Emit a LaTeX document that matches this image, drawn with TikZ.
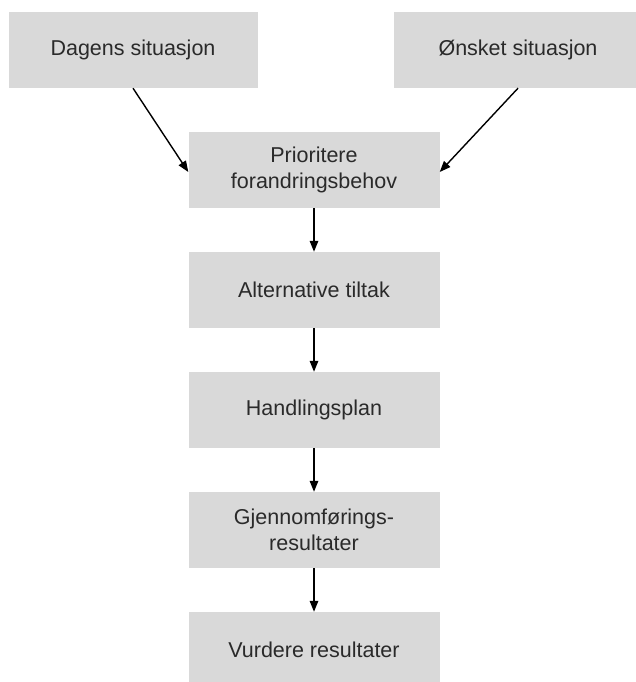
\documentclass[tikz,border=0pt]{standalone}
\usepackage{fontspec}
\setmainfont{Liberation Sans}
\usetikzlibrary{arrows.meta}
\definecolor{boxgray}{HTML}{D9D9D9}
\definecolor{txtgray}{HTML}{2A2A2A}
\begin{document}
\begin{tikzpicture}[x=1pt,y=-1pt,
  flowbox/.style={fill=boxgray, draw=none, minimum width=249pt, minimum height=76pt,
    inner sep=0pt, align=center, text=txtgray,
    font=\fontsize{21.5}{26.5}\selectfont},
  flowarrow/.style={draw=black, line width=1.4pt,
    -{Triangle[length=11pt,width=8.5pt]}, shorten >=0pt}]
\useasboundingbox (0,0) rectangle (636,682);
\clip (0,0) rectangle (636,682);
\fill[white] (0,0) rectangle (636,682);
\node[flowbox] (dag) at (133,50) {Dagens situasjon};
\node[flowbox] (onsk) at (518,50) {Ønsket situasjon};
\node[flowbox, minimum width=251pt] (prio) at (314,170) {Prioritere\\forandringsbehov};
\node[flowbox, minimum width=251pt] (alt) at (314,290) {Alternative tiltak};
\node[flowbox, minimum width=251pt] (hand) at (314,410) {Handlingsplan};
\node[flowbox, minimum width=251pt] (gjen) at (314,530) {Gjennomførings-\\resultater};
\node[flowbox, minimum width=251pt] (vurd) at (314,650) {Vurdere resultater};
\draw[flowarrow] (dag.south) -- ([yshift=-2pt]prio.west);
\draw[flowarrow] (onsk.south) -- ([yshift=-2pt]prio.east);
\draw[flowarrow] (prio.south) -- (alt.north);
\draw[flowarrow] (alt.south) -- (hand.north);
\draw[flowarrow] (hand.south) -- (gjen.north);
\draw[flowarrow] (gjen.south) -- (vurd.north);
\end{tikzpicture}
\end{document}
